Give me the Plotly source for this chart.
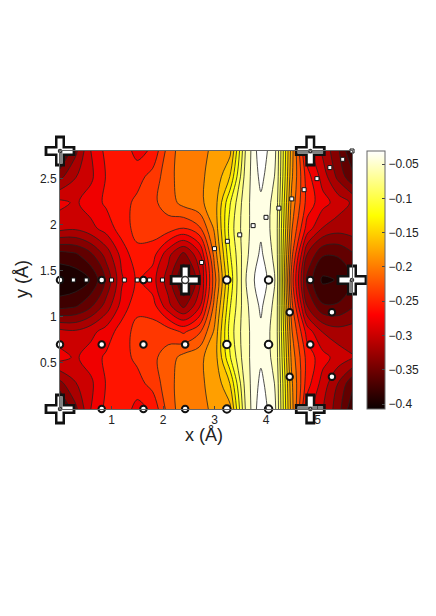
import plotly.graph_objects as go

# Potential surface, eV vs position in angstrom
x_grid = [0.0, 0.3, 0.6, 0.9, 1.2, 1.5, 1.8, 2.1, 2.4, 2.7, 3.0, 3.3, 3.6, 3.9, 4.2, 4.5, 4.8, 5.1, 5.4, 5.7]
y_grid = [0.0, 0.28, 0.56, 0.84, 1.12, 1.4, 1.68, 1.96, 2.24, 2.52, 2.8]
z_grid = [
    [-.380, -.335, -.292, -.268, -.262, -.280, -.270, -.228, -.205, -.200, -.197, -.185, -.085, -.033, -.068, -.190, -.285, -.310, -.340, -.385],
    [-.335, -.312, -.296, -.272, -.262, -.262, -.247, -.225, -.205, -.200, -.195, -.160, -.078, -.042, -.070, -.195, -.265, -.300, -.330, -.365],
    [-.285, -.295, -.283, -.270, -.262, -.250, -.240, -.227, -.210, -.202, -.190, -.125, -.072, -.052, -.075, -.205, -.262, -.285, -.300, -.310],
    [-.305, -.308, -.298, -.284, -.264, -.248, -.245, -.245, -.258, -.240, -.195, -.115, -.072, -.052, -.077, -.215, -.282, -.312, -.322, -.320],
    [-.375, -.370, -.352, -.322, -.285, -.260, -.265, -.305, -.335, -.298, -.210, -.125, -.072, -.044, -.075, -.230, -.330, -.365, -.365, -.350],
    [-.405, -.400, -.385, -.345, -.295, -.270, -.285, -.320, -.370, -.320, -.225, -.135, -.068, -.033, -.070, -.245, -.355, -.390, -.385, -.370],
    [-.375, -.370, -.352, -.322, -.285, -.260, -.265, -.305, -.335, -.298, -.210, -.125, -.072, -.044, -.075, -.230, -.330, -.365, -.365, -.350],
    [-.305, -.308, -.298, -.284, -.264, -.248, -.245, -.245, -.255, -.240, -.195, -.115, -.072, -.052, -.077, -.215, -.282, -.312, -.322, -.320],
    [-.287, -.295, -.283, -.270, -.262, -.250, -.240, -.227, -.210, -.202, -.190, -.125, -.072, -.052, -.075, -.205, -.262, -.285, -.300, -.315],
    [-.335, -.312, -.296, -.272, -.262, -.262, -.247, -.225, -.205, -.200, -.195, -.160, -.078, -.042, -.070, -.195, -.265, -.300, -.335, -.365],
    [-.380, -.335, -.292, -.268, -.262, -.280, -.270, -.228, -.205, -.200, -.197, -.185, -.085, -.033, -.068, -.190, -.285, -.315, -.345, -.390],
]

# Lattice sites (circles)
site_x = [0.0, 0.81, 1.62, 3.24, 4.05, 4.86,
          0.0, 0.81, 1.62, 2.43, 3.24, 4.05, 4.86,
          0.81, 1.62, 2.43, 3.24, 4.05,
          4.46, 5.28, 4.46, 5.28]
site_y = [1.4, 1.4, 1.4, 1.4, 1.4, 1.4,
          0.7, 0.7, 0.7, 0.7, 0.7, 0.7, 0.7,
          0.0, 0.0, 0.0, 0.0, 0.0,
          1.05, 1.05, 0.35, 0.35]
site_size = [6.5, 6.5, 6.5, 7.5, 7.5, 6.5,
             6.5, 6.5, 6.5, 6.5, 7.5, 7.5, 6.5,
             6.5, 6.5, 6.5, 7.5, 7.5,
             6.5, 6.5, 6.5, 6.5]

# Path samples (small squares)
path_x = [0.26, 0.51, 1.0, 1.25, 1.5, 1.74, 1.99, 2.75, 3.0, 3.25, 3.49, 3.75, 4.0, 4.25, 4.5, 4.74, 4.99, 5.24, 5.49, 5.67]
path_y = [1.4, 1.4, 1.4, 1.4, 1.4, 1.4, 1.4, 1.59, 1.74, 1.82, 1.89, 1.99, 2.08, 2.18, 2.28, 2.38, 2.5, 2.62, 2.71, 2.8]

# Large plus markers and their grey arms
plus_x = [0.0, 0.0, 4.86, 4.86, 2.43, 5.67]
plus_y = [0.0, 2.8, 0.0, 2.8, 1.4, 1.4]
plus_hub = [3, 3, 3, 3, 7, 3]
grey_x = [0.0, 0.0, None, 0.0, 0.0, None, 4.61, 5.11, None, 4.61, 5.11, None, 5.67, 5.67]
grey_y = [0.0, 0.14, None, 2.8, 2.66, None, 0.0, 0.0, None, 2.8, 2.8, None, 1.4, 1.26]

x_ticks = [1, 2, 3, 4, 5]
y_ticks = [0.5, 1, 1.5, 2, 2.5]
cbar_ticks = [-0.05, -0.1, -0.15, -0.2, -0.25, -0.3, -0.35, -0.4]
cbar_labels = ["\u22120.05", "\u22120.1", "\u22120.15", "\u22120.2", "\u22120.25", "\u22120.3", "\u22120.35", "\u22120.4"]

hot = [[0, "#0a0000"], [0.365, "#ff0000"], [0.75, "#ffff00"], [1, "#ffffff"]]
FONT = "Liberation Sans, Arial, sans-serif"
W, H = 436, 616
Z_MIN, Z_MAX = -0.407, -0.031
PAGE_MARGIN = 8  # the html body adds this around the figure


def px_x(px):
    return (px - PAGE_MARGIN) / W


def px_y(py):
    return (H - (py - PAGE_MARGIN)) / H


fig = go.Figure()

# heatmap is only there for the smooth colorbar, the contour covers it
fig.add_trace(go.Heatmap(
    x=x_grid, y=y_grid, z=z_grid, zmin=Z_MIN, zmax=Z_MAX, colorscale=hot,
    colorbar=dict(
        x=px_x(367), xanchor="left", xpad=0, ypad=0, thickness=18, thicknessmode="pixels",
        y=px_y(409), yanchor="bottom", len=258 / H, lenmode="fraction",
        tickvals=cbar_ticks, ticktext=cbar_labels, ticks="inside", ticklen=3, tickcolor="#444",
        tickfont=dict(family=FONT, size=12, color="#222"),
        outlinecolor="#666", outlinewidth=1,
    ),
))
fig.add_trace(go.Contour(
    x=x_grid, y=y_grid, z=z_grid, zmin=Z_MIN, zmax=Z_MAX, colorscale=hot, showscale=False,
    contours=dict(start=-0.405, end=-0.029, size=0.0188, coloring="fill"),
    line=dict(color="#222", width=0.8, smoothing=1.0),
))
fig.add_trace(go.Scatter(
    x=path_x, y=path_y, mode="markers", cliponaxis=False,
    marker=dict(symbol="square", size=4, color="white", opacity=1, line=dict(color="#111", width=1)),
))
fig.add_trace(go.Scatter(
    x=site_x, y=site_y, mode="markers", cliponaxis=False,
    marker=dict(symbol="circle", size=site_size, color="white", opacity=1, line=dict(color="#111", width=2)),
))
fig.add_trace(go.Scatter(
    x=plus_x, y=plus_y, mode="markers", cliponaxis=False,
    marker=dict(symbol="cross-thin", size=22, opacity=1, line=dict(color="#111", width=10)),
))
fig.add_trace(go.Scatter(
    x=plus_x, y=plus_y, mode="markers", cliponaxis=False,
    marker=dict(symbol="cross-thin", size=18, opacity=1, line=dict(color="white", width=5)),
))
fig.add_trace(go.Scatter(
    x=grey_x, y=grey_y, mode="lines", cliponaxis=False,
    line=dict(color="#808080", width=5),
))
fig.add_trace(go.Scatter(
    x=plus_x, y=plus_y, mode="markers", cliponaxis=False,
    marker=dict(symbol="circle", size=plus_hub, color="white", opacity=1, line=dict(color="#333", width=1.5)),
))

axis_style = dict(
    showgrid=False, zeroline=False, mirror=True, showline=True, linecolor="#666", linewidth=1,
    ticks="inside", ticklen=3, tickcolor="#444",
    tickfont=dict(family=FONT, size=12, color="#222"),
)
fig.update_xaxes(range=[0, 5.67], domain=[px_x(60), px_x(352)], tickvals=x_ticks, **axis_style)
fig.update_yaxes(range=[0, 2.8], domain=[px_y(409), px_y(151)], tickvals=y_ticks, **axis_style)

fig.update_layout(
    width=W, height=H, margin=dict(l=0, r=0, t=0, b=0),
    paper_bgcolor="white", plot_bgcolor="white", showlegend=False,
    annotations=[
        dict(text="x (\u00c5)", x=px_x(204), y=px_y(435), xref="paper", yref="paper",
             xanchor="center", yanchor="middle",
             showarrow=False, font=dict(family=FONT, size=18, color="#222")),
        dict(text="y (\u00c5)", x=px_x(22), y=px_y(279), xref="paper", yref="paper", textangle=-90,
             xanchor="center", yanchor="middle",
             showarrow=False, font=dict(family=FONT, size=18, color="#222")),
    ],
)

fig.write_html("out.html")
